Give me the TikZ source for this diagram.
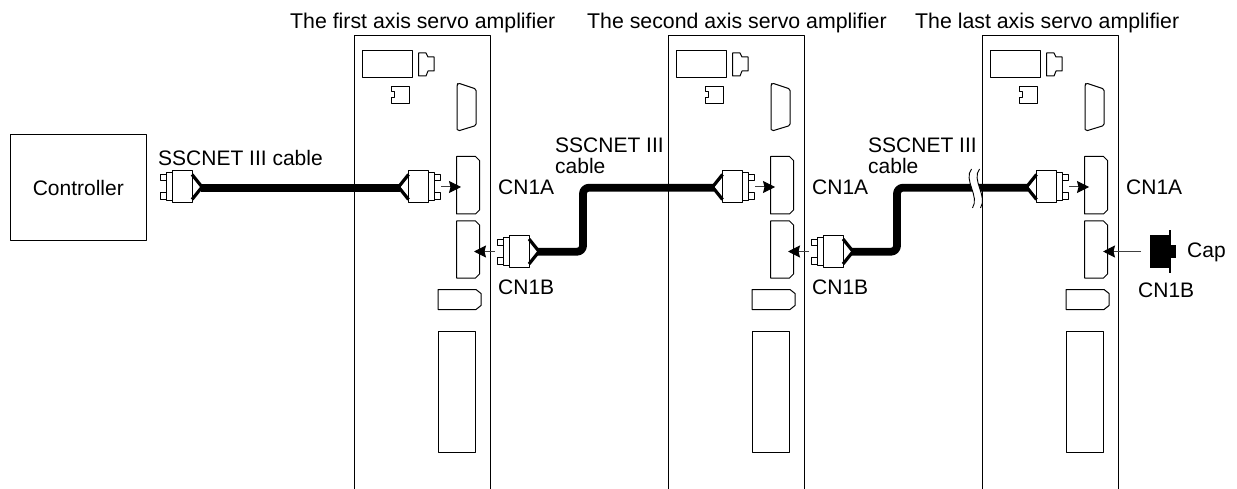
\documentclass[tikz,border=0pt]{standalone}
\usepackage{fontspec}
\setmainfont{Liberation Sans}
\usetikzlibrary{arrows.meta}
\tikzset{
  part/.style={draw=black,line width=1pt,line join=round,fill=white},
  lab/.style={inner sep=0pt,anchor=base west,font=\fontsize{21}{21}\selectfont},
  toplab/.style={lab,font=\fontsize{21.3}{21.3}\selectfont},
  cable/.style={line width=7.8pt,line join=round,rounded corners=6pt,draw=black},
  plug/.style={draw=black!75,line width=1pt,-{Stealth[length=12pt,width=12pt,inset=1.5pt,black]}},
  pics/amp/.style={code={
    \draw[part,fill=none] (0,489-36) -- (0,0) -- (136,0) -- (136,489-36);
    \draw[part] (8,15) rectangle (58,42);
    \draw[part] (64.5,17) -- (72,17) -- (74,21) -- (80,21) -- (80,35) -- (74,35) -- (72,40) -- (64.5,40) -- cycle;
    \draw[part] (37,51) -- (55,51) -- (55,68) -- (37,68) -- (37,62) -- (40,62) -- (40,56) -- (37,56) -- cycle;
    \draw[part] (103,49) -- (103,93) [rounded corners=1.5pt] -- (104,95) -- (122,89.5) -- (122,53) -- (104,47) -- cycle;
    \draw[part] (102.5,120.5) -- (121.5,120.5) -- (125.5,124.5) -- (125.5,174) -- (121.5,178) -- (102.5,178) -- cycle;
    \draw[part] (102.5,185) -- (121.5,185) -- (125.5,189) -- (125.5,238) -- (121.5,242) -- (102.5,242) -- cycle;
    \draw[part] (84,253.5) -- (122,253.5) -- (127,257.5) -- (127,269.5) -- (122,273.5) -- (84,273.5) -- cycle;
    \draw[part] (84,295) rectangle (121.5,416);
  }},
  pics/conn/.style={code={
    \draw[part] (-12,-12) rectangle (-4,-6);
    \draw[part] (-12,6) rectangle (-4,13);
    \draw[part] (-6,-14) rectangle (0,14);
    \draw[part] (0,-16) rectangle (20,16);
    \draw[black,line width=3.2pt,line join=miter] (20,-12.5) -- (30,0) -- (20,12.5);
  }}
}
\begin{document}
\begin{tikzpicture}[x=1pt,y=-1pt]
\useasboundingbox (0,0) rectangle (1237,489);
\pic at (354,36) {amp};
\pic at (668,36) {amp};
\pic at (982,36) {amp};

\node[part,minimum width=136.5pt,minimum height=106.5pt,inner sep=0pt,font=\fontsize{21}{21}\selectfont] (ctrl) at (78.3,187.5) {Controller};

% connection points
\coordinate (c0) at (201,187.7);
\coordinate (c1) at (400,187.7);
\coordinate (c2) at (537,251.7);
\coordinate (c2m) at (583,251.7);
\coordinate (c2n) at (583,187.7);
\coordinate (c3) at (714,187.7);
\coordinate (c4) at (851,251.7);
\coordinate (c4m) at (897,251.7);
\coordinate (c4n) at (897,187.7);
\coordinate (c5) at (1028,187.7);

\draw[cable] (c0) -- (c1);
\draw[cable] (c2) -- (c2m) -- (c2n) -- (c3);
\draw[cable] (c4) -- (c4m) -- (c4n) -- (c5);

% break in the last cable
\fill[white] (971.5,169) .. controls (963,180) and (980,196) .. (972.5,208) -- (980.5,208) .. controls (988,196) and (971,180) .. (979.5,169) -- cycle;
\draw[black,line width=0.9pt] (971.5,169) .. controls (963,180) and (980,196) .. (972.5,208);
\draw[black,line width=0.9pt] (979.5,169) .. controls (971,180) and (988,196) .. (980.5,208);
\draw[black,line width=1pt] (982,168) -- (982,209);

% connectors
\pic at (172,187) {conn};
\pic[xscale=-1] at (428.5,187) {conn};
\pic at (509,251.5) {conn};
\pic[xscale=-1] at (742.5,187) {conn};
\pic at (823,251.5) {conn};
\pic[xscale=-1] at (1056.5,187) {conn};

% plug arrows
\coordinate (a1s) at (441,187); \coordinate (a1e) at (461,187);
\coordinate (b1s) at (495,251.5); \coordinate (b1e) at (474,251.5);
\coordinate (a2s) at (755,187); \coordinate (a2e) at (775,187);
\coordinate (b2s) at (809,251.5); \coordinate (b2e) at (788,251.5);
\coordinate (a3s) at (1069,187); \coordinate (a3e) at (1089,187);
\coordinate (b3s) at (1141,251.5); \coordinate (b3e) at (1103,251.5);
\foreach \s/\e in {a1s/a1e,b1s/b1e,a2s/a2e,b2s/b2e,a3s/a3e,b3s/b3e}
  \draw[plug] (\s) -- (\e);

% cap
\fill[black] (1150,235) rectangle (1170,268);
\fill[black] (1169,230) rectangle (1171,273);
\fill[black] (1170,245) rectangle (1176,258);

% labels
\node[toplab] (t1) at (290,29) {The first axis servo amplifier};
\node[toplab] (t2) at (587,29) {The second axis servo amplifier};
\node[toplab] (t3) at (915,29) {The last axis servo amplifier};
\node[lab] (s0) at (158,166) {SSCNET III cable};
\node[lab] (s1) at (555,153) {SSCNET III};
\node[lab] (s1b) at (555,174) {cable};
\node[lab] (s2) at (868,153) {SSCNET III};
\node[lab] (s2b) at (868,174) {cable};
\node[lab] (a1) at (498,195) {CN1A};
\node[lab] (a2) at (812,195) {CN1A};
\node[lab] (a3) at (1126,195) {CN1A};
\node[lab] (b1) at (498,294) {CN1B};
\node[lab] (b2) at (812,294) {CN1B};
\node[lab] (b3) at (1138,297) {CN1B};
\node[lab] (cp) at (1187,258) {Cap};
\end{tikzpicture}
\end{document}
